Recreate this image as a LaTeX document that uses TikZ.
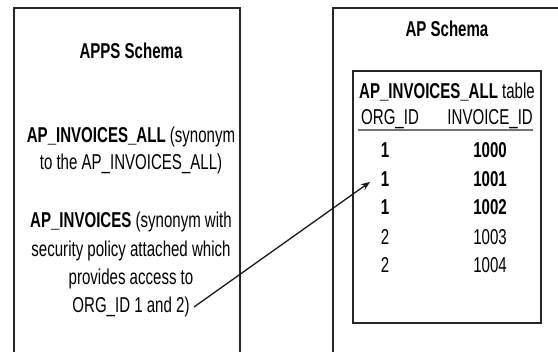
\documentclass[tikz,border=0pt]{standalone}
\usepackage{fontspec}
\setmainfont{Liberation Sans}[FakeStretch=0.70]
\usetikzlibrary{arrows.meta}
\begin{document}
\begin{tikzpicture}[x=1pt,y=-1pt,
  frame/.style={draw=black!85, line width=1.4pt},
  txt/.style={anchor=base, inner sep=0pt, text=black, font=\fontsize{21.5}{28.5}\selectfont},
  txtl/.style={txt, anchor=base west},
  txtr/.style={txt, anchor=base east},
  link/.style={draw=black!90, line width=1.3pt, -{Stealth[length=9pt,width=7pt]}}]
\useasboundingbox (0,0) rectangle (558,352);
\fill[white] (0,0) rectangle (558,352);
% schema frames (open at the picture edges)
\coordinate (l1) at (14,352); \coordinate (l2) at (14,8);
\coordinate (l3) at (240,8);  \coordinate (l4) at (240,352);
\draw[frame] (l1) -- (l2) -- (l3) -- (l4);
\coordinate (r1) at (333,352); \coordinate (r2) at (333,8); \coordinate (r3) at (558,8);
\draw[frame] (r1) -- (r2) -- (r3);
% left schema texts
\node[txt] (apps) at (131,59) {\textbf{APPS Schema}};
\node[txt] (a1) at (131,143) {\textbf{AP\_INVOICES\_ALL} (synonym};
\node[txt] (a2) at (131,170) {to the AP\_INVOICES\_ALL)};
\node[txt] (b1) at (131,228) {\textbf{AP\_INVOICES} (synonym with};
\node[txt] (b2) at (131,257) {security policy attached which};
\node[txt] (b3) at (131,285) {provides access to};
\node[txt] (b4) at (131,313) {ORG\_ID 1 and 2)};
% right schema
\node[txt] (ap) at (447,37) {\textbf{AP Schema}};
\node[frame, draw, minimum width=188pt, minimum height=252pt, inner sep=0pt] (tbl) at (447,197) {};
\node[txt] (ttl) at (447,99) {\textbf{AP\_INVOICES\_ALL} table};
\node[txtl] (h1) at (361,125) {ORG\_ID};
\node[txtr] (h2) at (533,125) {INVOICE\_ID};
\coordinate (u1) at (358,130); \coordinate (u2) at (533,130);
\draw[black!55, line width=1.3pt] (u1) -- (u2);
\node[txt] (o1) at (385,158) {\textbf{1}};
\node[txt] (o2) at (385,187) {\textbf{1}};
\node[txt] (o3) at (385,215) {\textbf{1}};
\node[txt] (o4) at (385,245) {2};
\node[txt] (o5) at (385,273) {2};
\node[txtr] (i1) at (507,158) {\textbf{1000}};
\node[txtr] (i2) at (507,187) {\textbf{1001}};
\node[txtr] (i3) at (507,215) {\textbf{1002}};
\node[txtr] (i4) at (507,245) {1003};
\node[txtr] (i5) at (507,273) {1004};
% arrow
\coordinate (as) at (194,307);
\coordinate (ae) at (370,182);
\draw[link] (as) -- (ae);
\end{tikzpicture}
\end{document}
